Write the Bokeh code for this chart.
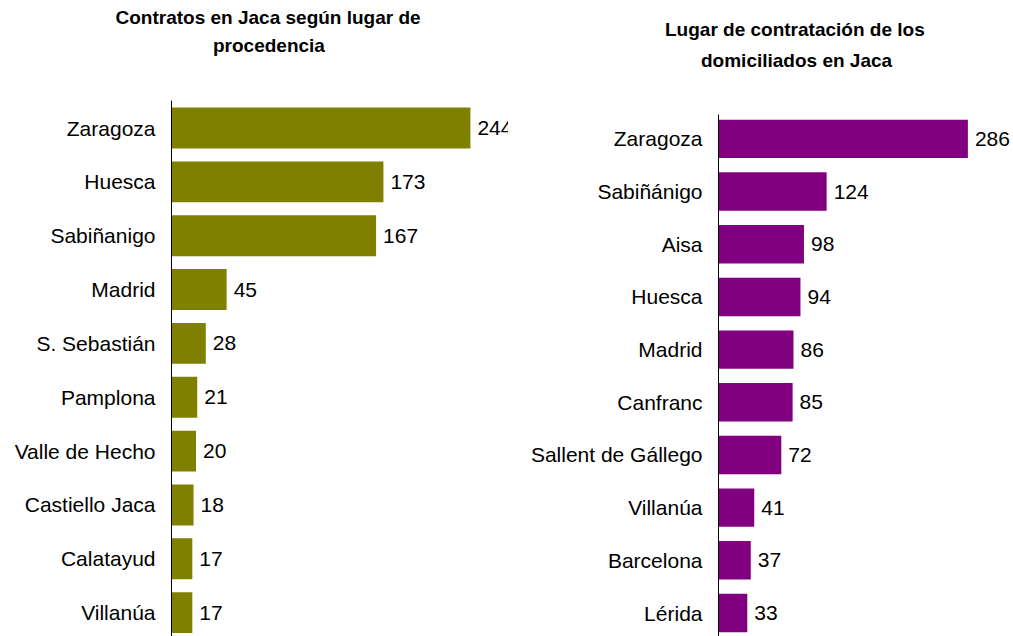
import numpy as np
from bokeh.plotting import figure
from bokeh.models import Range1d, FixedTicker, Title, ColumnDataSource, Spacer
from bokeh.layouts import row, column
from bokeh.embed import file_html
from bokeh.resources import INLINE
from bokeh.core.properties import value

# ---- data ----
left_title_lines = ["Contratos en Jaca según lugar de", "procedencia"]
left_places = ["Zaragoza", "Huesca", "Sabiñanigo", "Madrid", "S. Sebastián",
               "Pamplona", "Valle de Hecho", "Castiello Jaca", "Calatayud", "Villanúa"]
left_counts = [244, 173, 167, 45, 28, 21, 20, 18, 17, 17]

right_title_lines = ["Lugar de contratación de los", "domiciliados en Jaca"]
right_places = ["Zaragoza", "Sabiñánigo", "Aisa", "Huesca", "Madrid", "Canfranc",
                "Sallent de Gállego", "Villanúa", "Barcelona", "Lérida"]
right_counts = [286, 124, 98, 94, 86, 85, 72, 41, 37, 33]

FONT = "Liberation Sans"


def make_panel(places, counts, color, width, height, border_left,
               x_end, y_top, y_bottom, bar_h, title_lines, title_offsets,
               title_standoffs, spacer_standoff):
    pos = list(range(len(places)))
    src = ColumnDataSource(dict(pos=pos, count=counts,
                                label=[str(c) for c in counts]))
    p = figure(width=width, height=height, output_backend="svg",
               toolbar_location=None, title=None,
               x_range=Range1d(0, x_end),
               y_range=Range1d(start=y_bottom, end=y_top),
               min_border_left=border_left, min_border_right=0,
               min_border_top=0, min_border_bottom=0)
    p.hbar(y="pos", left=0, right="count", height=bar_h, source=src,
           fill_color=color, line_color=None)
    p.text(x="count", y="pos", text="label", source=src, x_offset=7,
           text_baseline="middle", text_align="left",
           text_font_size="21px", text_font=value(FONT), text_color="#000000")
    p.xaxis.visible = False
    p.xgrid.visible = False
    p.ygrid.visible = False
    p.outline_line_color = None
    ax = p.yaxis[0]
    ax.ticker = FixedTicker(ticks=pos)
    ax.major_label_overrides = {i: name for i, name in zip(pos, places)}
    ax.major_tick_line_color = None
    ax.minor_tick_line_color = None
    ax.major_tick_out = 0
    ax.major_label_standoff = 16
    ax.major_label_text_font = FONT
    ax.major_label_text_font_size = "21px"
    ax.major_label_text_color = "#000000"
    ax.axis_line_color = "#000000"
    ax.axis_line_width = 1
    # spacer nearest the frame, then second title line, then first line
    p.add_layout(Title(text=" ", text_font_size="1px", standoff=spacer_standoff),
                 "above")
    for text, off, so in reversed(list(zip(title_lines, title_offsets,
                                           title_standoffs))):
        p.add_layout(Title(text=text, align="left", offset=off, standoff=so,
                           text_font=FONT, text_font_size="19px",
                           text_font_style="bold", text_color="#000000"),
                     "above")
    return p


left = make_panel(left_places, left_counts, "#808000", width=508, height=636,
                  border_left=171, x_end=275.1,
                  y_top=-0.511, y_bottom=9.443, bar_h=0.76,
                  title_lines=left_title_lines, title_offsets=[-56, 41.5],
                  title_standoffs=[8, 2], spacer_standoff=41)
right = make_panel(right_places, right_counts, "#800080", width=505, height=622,
                   border_left=210, x_end=338.3,
                   y_top=-0.463, y_bottom=9.446, bar_h=0.73,
                   title_lines=right_title_lines, title_offsets=[-53.5, -17.5],
                   title_standoffs=[4, 12], spacer_standoff=35)

layout = row(left, column(Spacer(height=14, width=505), right))
open("out.html", "w").write(file_html(layout, INLINE))
